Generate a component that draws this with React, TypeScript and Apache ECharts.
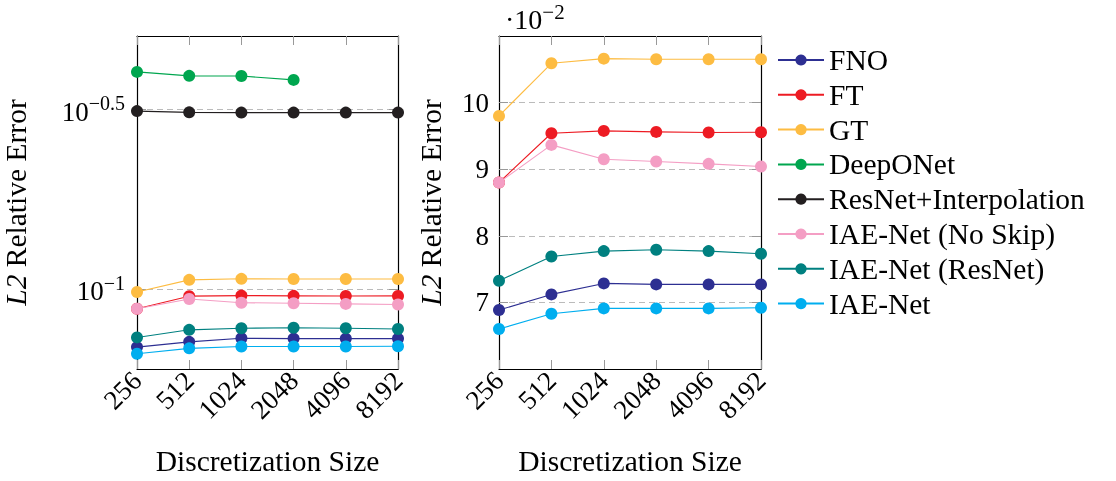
import React, { useEffect, useRef } from 'react';
import * as echarts from 'echarts';

const sizes = ['256', '512', '1024', '2048', '4096', '8192'];
const seriesNames = ['FNO', 'FT', 'GT', 'DeepONet', 'ResNet+Interpolation', 'IAE-Net (No Skip)', 'IAE-Net (ResNet)', 'IAE-Net'];
const colors = ['#2D2F92', '#ED1B23', '#FDBC42', '#00A64F', '#231F20', '#F49EC4', '#008080', '#00AEEF'];

const fno = [0.06885, 0.0712, 0.07285, 0.0727, 0.0727, 0.0727];
const ft = [0.088, 0.0954, 0.09575, 0.0956, 0.0955, 0.09555];
const gt = [0.098, 0.1059, 0.1066, 0.1065, 0.1065, 0.1065];
const deepONet = [0.401, 0.391, 0.3905, 0.381, null, null];
const resNetInterp = [0.312, 0.3095, 0.309, 0.309, 0.309, 0.309];
const iaeNoSkip = [0.088, 0.09365, 0.0915, 0.09115, 0.0908, 0.0904];
const iaeResNet = [0.07325, 0.0769, 0.0777, 0.0779, 0.0777, 0.0773];
const iaeNet = [0.066, 0.0683, 0.0691, 0.0691, 0.0691, 0.0692];

const leftTickExponents = [-1, -0.5];
const rightTicks = [0.07, 0.08, 0.09, 0.1];
const rightScaleExponent = -2;

const allData = [fno, ft, gt, deepONet, resNetInterp, iaeNoSkip, iaeResNet, iaeNet];
const rightShown = [true, true, true, false, false, true, true, true];

const FONT = "'Liberation Serif', serif";
const FS = 27;
const FS_TEXT = 29.5;

const supRich = {
  b: { fontSize: FS, fontFamily: FONT, color: '#000', lineHeight: 32, verticalAlign: 'bottom' },
  s: { fontSize: 20, fontFamily: FONT, color: '#000', lineHeight: 19, verticalAlign: 'top' },
};

function fmtExp(e: number) {
  return String(e).replace('-', '\u2212');
}

export default function App() {
  const ref = useRef<HTMLDivElement>(null);
  useEffect(() => {
    if (!ref.current) return;
    const chart = echarts.init(ref.current, null, { renderer: 'svg' });
    const grids = [
      { left: 137, top: 36, width: 261, height: 334 },
      { left: 499, top: 36, width: 262, height: 334 },
    ];
    const leftMin = Math.pow(10, -1.223);
    const leftMax = Math.pow(10, -0.297);
    const leftTickVals = leftTickExponents.map((e) => Math.pow(10, e));

    const tickStyle = { show: true, inside: true, length: 9, lineStyle: { color: '#999', width: 1 } };
    const axisLineStyle = { show: true, lineStyle: { color: '#000', width: 1.2 } };
    const nameStyle = {
      fontSize: FS_TEXT,
      fontFamily: FONT,
      color: '#000',
      rich: { i: { fontSize: FS_TEXT, fontFamily: FONT, fontStyle: 'italic', color: '#000' } },
    };

    const xAxes: any[] = [];
    const yAxes: any[] = [];
    [0, 1].forEach((g) => {
      xAxes.push({
        type: 'category',
        gridIndex: g,
        data: sizes,
        boundaryGap: false,
        position: 'bottom',
        axisLine: axisLineStyle,
        axisTick: tickStyle,
        axisLabel: { rotate: 45, fontSize: FS, fontFamily: FONT, color: '#000', margin: 7, interval: 0 },
        splitLine: { show: false },
        name: 'Discretization Size',
        nameLocation: 'middle',
        nameGap: 77,
        nameTextStyle: nameStyle,
      });
      xAxes.push({
        type: 'category',
        gridIndex: g,
        data: sizes,
        boundaryGap: false,
        position: 'top',
        axisLine: axisLineStyle,
        axisTick: tickStyle,
        axisLabel: { show: false },
        splitLine: { show: false },
      });
    });
    // left panel (log)
    yAxes.push({
      type: 'log',
      logBase: 10,
      gridIndex: 0,
      min: leftMin,
      max: leftMax,
      position: 'left',
      axisLine: axisLineStyle,
      axisTick: { ...tickStyle, customValues: leftTickVals },
      axisLabel: {
        customValues: leftTickVals,
        margin: 12,
        formatter: (v: number) => `{b|10}{s|${fmtExp(Math.round(Math.log10(v) * 10) / 10)}}`,
        rich: supRich,
      },
      splitLine: { show: true, lineStyle: { color: '#bbb', type: [6, 4], width: 1 } },
      minorTick: { show: false },
      name: '{i|L2} Relative Error',
      nameLocation: 'middle',
      nameGap: 106,
      nameTextStyle: nameStyle,
    });
    yAxes.push({
      type: 'log',
      logBase: 10,
      gridIndex: 0,
      min: leftMin,
      max: leftMax,
      position: 'right',
      axisLine: axisLineStyle,
      axisTick: { ...tickStyle, customValues: leftTickVals },
      axisLabel: { show: false },
      splitLine: { show: false },
    });
    // right panel (linear)
    yAxes.push({
      type: 'value',
      gridIndex: 1,
      min: 0.06,
      max: 0.11,
      position: 'left',
      axisLine: axisLineStyle,
      axisTick: { ...tickStyle, customValues: rightTicks },
      axisLabel: {
        customValues: rightTicks,
        margin: 10,
        fontSize: FS,
        fontFamily: FONT,
        color: '#000',
        formatter: (v: number) => String(Math.round(v / Math.pow(10, rightScaleExponent))),
      },
      splitLine: { show: true, lineStyle: { color: '#bbb', type: [6, 4], width: 1 } },
      name: '{i|L2} Relative Error',
      nameLocation: 'middle',
      nameGap: 53,
      nameTextStyle: nameStyle,
    });
    yAxes.push({
      type: 'value',
      gridIndex: 1,
      min: 0.06,
      max: 0.11,
      position: 'right',
      axisLine: axisLineStyle,
      axisTick: { ...tickStyle, customValues: rightTicks },
      axisLabel: { show: false },
      splitLine: { show: false },
    });

    const series: any[] = [];
    seriesNames.forEach((name, i) => {
      const base = {
        type: 'line',
        name,
        data: allData[i],
        symbol: 'circle',
        symbolSize: 12,
        showSymbol: true,
        connectNulls: false,
        itemStyle: { color: colors[i] },
        lineStyle: { color: colors[i], width: 1.1 },
        emphasis: { disabled: true },
        z: 2 + i,
      };
      series.push({ ...base, xAxisIndex: 0, yAxisIndex: 0 });
      if (rightShown[i]) series.push({ ...base, xAxisIndex: 2, yAxisIndex: 2 });
    });

    chart.setOption({
      animation: false,
      grid: grids,
      xAxis: xAxes,
      yAxis: yAxes,
      legend: {
        orient: 'vertical',
        left: 777,
        top: 45,
        padding: 0,
        data: seriesNames,
        itemWidth: 46,
        itemHeight: 14,
        itemGap: 4.8,
        textStyle: { fontSize: FS_TEXT, fontFamily: FONT, color: '#000', lineHeight: 30 },
        selectedMode: false,
      },
      graphic: [
        {
          type: 'text',
          left: 505,
          top: 1,
          style: {
            text: `{b|\u00B710}{s|${fmtExp(rightScaleExponent)}}`,
            rich: {
              b: { ...supRich.b, fontSize: 28 },
              s: { ...supRich.s, fontSize: 21 },
            },
          },
        },
      ],
      series,
    });
    return () => chart.dispose();
  }, []);
  return <div ref={ref} style={{ position: 'fixed', left: 0, top: 0, width: 1116, height: 481 }} />;
}
